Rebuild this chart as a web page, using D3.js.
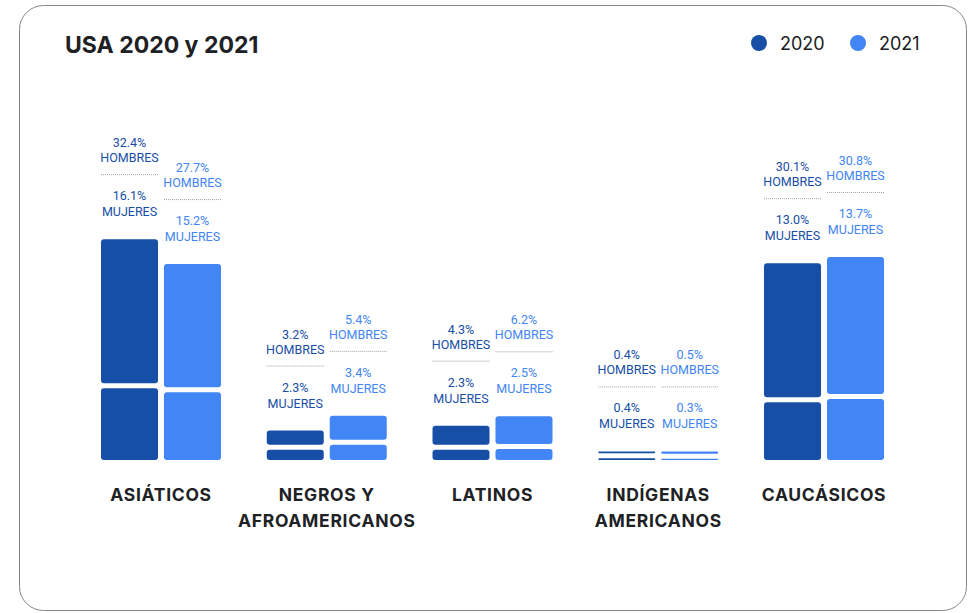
<!DOCTYPE html>
<html>
<head>
<meta charset="utf-8">
<script src="https://cdn.jsdelivr.net/npm/d3@7"></script>
<style>
  html, body { margin: 0; padding: 0; background: #fff; }
  svg { display: block; font-family: Roboto, "Noto Sans", sans-serif; }
</style>
</head>
<body>
<svg id="chart" width="972" height="613"></svg>
<script>
// Ethnic groups and their shares by gender, per year (%)
const categories = [["ASIÁTICOS"], ["NEGROS Y", "AFROAMERICANOS"], ["LATINOS"], ["INDÍGENAS", "AMERICANOS"], ["CAUCÁSICOS"]];
const years = ["2020", "2021"];
const hombres2020 = [32.4, 3.2, 4.3, 0.4, 30.1];
const mujeres2020 = [16.1, 2.3, 2.3, 0.4, 13.0];
const hombres2021 = [27.7, 5.4, 6.2, 0.5, 30.8];
const mujeres2021 = [15.2, 3.4, 2.5, 0.3, 13.7];

const colors = { "2020": "#174EA6", "2021": "#4285F4" };
const textDark = "#202124";
const headFont = "Inter, Roboto, sans-serif";

const svg = d3.select("#chart");

// Card frame
svg.append("rect")
  .attr("x", 19.5).attr("y", 5.5)
  .attr("width", 947).attr("height", 605)
  .attr("rx", 24).attr("ry", 24)
  .attr("fill", "#fff").attr("stroke", "#80868b").attr("stroke-width", 1);

// Title
svg.append("text")
  .attr("x", 65).attr("y", 53)
  .attr("font-family", headFont)
  .attr("font-size", 23).attr("font-weight", 700)
  .attr("fill", textDark)
  .text("USA 2020 y 2021");

// Legend
const legend = svg.append("g");
const legendX = { "2020": 759, "2021": 858 };
years.forEach(yr => {
  legend.append("circle")
    .attr("cx", legendX[yr]).attr("cy", 43).attr("r", 8)
    .attr("fill", colors[yr]);
  legend.append("text")
    .attr("x", legendX[yr] + 21).attr("y", 50)
    .attr("font-family", headFont)
    .attr("font-size", 18).attr("fill", textDark)
    .text(yr);
});

// Scales
const baseline = 460;
const x0 = d3.scaleBand()
  .domain(d3.range(categories.length))
  .range([101, 884])
  .paddingInner(0.276).paddingOuter(0);
const x1 = d3.scaleBand()
  .domain(years)
  .range([0, x0.bandwidth()])
  .paddingInner(0.095);
const y = d3.scaleLinear().domain([0, 50]).range([baseline, baseline - 222.5]);
const gap = 5;

const rows = categories.map((c, i) => ({
  i,
  label: c,
  bars: [
    { year: "2020", h: hombres2020[i], m: mujeres2020[i] },
    { year: "2021", h: hombres2021[i], m: mujeres2021[i] }
  ]
}));

const groups = svg.selectAll("g.group")
  .data(rows).enter().append("g")
  .attr("class", "group")
  .attr("transform", d => `translate(${x0(d.i)},0)`);

const bars = groups.selectAll("g.bar")
  .data(d => d.bars).enter().append("g")
  .attr("class", "bar")
  .attr("transform", d => `translate(${x1(d.year)},0)`);

function roundRect(sel, yTop, yBot) {
  sel.attr("x", 0).attr("width", x1.bandwidth())
    .attr("y", yTop).attr("height", d => yBot(d) - yTop(d))
    .attr("rx", d => Math.min(3, (yBot(d) - yTop(d)) / 2));
}

// Mujeres segment (bottom)
bars.append("rect")
  .attr("fill", d => colors[d.year])
  .call(roundRect, d => y(d.m), () => baseline);

// Hombres segment (top), stacked above with a small gap
const topOf = d => y(d.m) - gap - (baseline - y(d.h));
bars.append("rect")
  .attr("fill", d => colors[d.year])
  .call(roundRect, topOf, d => y(d.m) - gap);

// Value labels above each bar
const cx = x1.bandwidth() / 2;
const lbl = bars.append("g")
  .attr("font-size", 12.5)
  .attr("text-anchor", "middle")
  .attr("fill", d => colors[d.year]);

const lines = [
  { off: -92, t: d => d.h.toFixed(1) + "%" },
  { off: -77, t: () => "HOMBRES" },
  { off: -39, t: d => d.m.toFixed(1) + "%" },
  { off: -23, t: () => "MUJERES" }
];
lines.forEach(l => {
  lbl.append("text")
    .attr("x", cx)
    .attr("y", d => topOf(d) + l.off)
    .text(l.t);
});
lbl.append("line")
  .attr("x1", 0).attr("x2", x1.bandwidth())
  .attr("y1", d => topOf(d) - 64.5).attr("y2", d => topOf(d) - 64.5)
  .attr("stroke", "#9aa0a6").attr("stroke-width", 1)
  .attr("stroke-dasharray", "1,1");

// Category labels
groups.each(function (d) {
  const t = d3.select(this).append("text")
    .attr("text-anchor", "middle")
    .attr("font-family", headFont)
    .attr("font-size", 17.5).attr("font-weight", 700)
    .attr("letter-spacing", 0.7)
    .attr("fill", textDark);
  d.label.forEach((s, k) => {
    t.append("tspan")
      .attr("x", x0.bandwidth() / 2)
      .attr("y", 501 + k * 26)
      .text(s);
  });
});
</script>
</body>
</html>
